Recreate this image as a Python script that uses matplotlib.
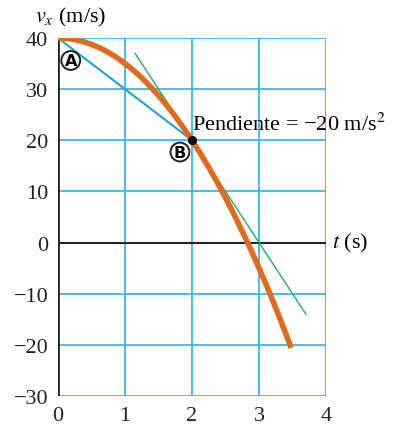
import numpy as np
import matplotlib
matplotlib.use("Agg")
import matplotlib.pyplot as plt

# velocity curve
t_curve = [0, 0.125, 0.25, 0.375, 0.5, 0.625, 0.75, 0.875, 1.0, 1.125, 1.25, 1.375, 1.5,
           1.625, 1.75, 1.875, 2.0, 2.125, 2.25, 2.375, 2.5, 2.625, 2.75, 2.875, 3.0,
           3.125, 3.25, 3.375, 3.48]
v_curve = [40, 39.92, 39.7, 39.3, 38.75, 38.05, 37.2, 36.2, 35, 33.7, 32.2, 30.55, 28.75,
           26.8, 24.7, 22.4, 20, 17.4, 14.7, 11.8, 8.75, 5.55, 2.2, -1.3, -5,
           -8.8, -12.8, -16.95, -20.6]

# chord A -> B
t_chord = [0, 2]
v_chord = [40, 20]

# tangent at B
t_tan = [1.15, 3.7]
v_tan = [37, -14]

point_B = (2, 20)
x_ticks = [0, 1, 2, 3, 4]
y_ticks = [-30, -20, -10, 0, 10, 20, 30, 40]

plt.rcParams['font.family'] = ['Liberation Serif', 'DejaVu Serif']
plt.rcParams['mathtext.fontset'] = 'stix'

grid_c = '#3bb6ea'
fig = plt.figure(figsize=(4.07, 4.27), dpi=100)
ax = fig.add_axes([0.1425, 0.0703, 0.6585, 0.8384])
ax.set_xlim(0, 4)
ax.set_ylim(-30, 40)

for x in x_ticks[1:]:
    ax.axvline(x, color=grid_c, lw=1.3, zorder=1)
for y in y_ticks:
    if y != 0:
        ax.axhline(y, color=grid_c, lw=1.3, zorder=1)
ax.axhline(0, color='#222222', lw=1.5, zorder=2)
ax.axvline(0, color='#222222', lw=2, zorder=2)

for s in ax.spines.values():
    s.set_visible(False)

ax.plot(t_chord, v_chord, color='#1aa3e0', lw=1.5, zorder=3)
ax.plot(t_tan, v_tan, color='#1fae6a', lw=1.0, zorder=3)
ax.plot(t_curve, v_curve, color='#e06a1e', lw=4, solid_capstyle='butt', zorder=4)
ax.plot(*point_B, 'o', color='black', ms=5.5, zorder=5)

ax.set_xticks(x_ticks)
ax.set_yticks(y_ticks)
ax.set_yticklabels([str(v).replace('-', '\u2212') for v in y_ticks])
ax.tick_params(length=0, labelsize=16, colors='#222222', pad=7)

ax.text(2.0, 23.3, 'Pendiente = \u221220 m/s$^2$', fontsize=16, ha='left', va='center', zorder=6)
for lab, (tx, vy) in [('A', (0.19, 35.6)), ('B', (1.82, 17.7))]:
    ax.text(tx, vy, lab, fontsize=11.5, fontweight='bold', family='DejaVu Sans', ha='center', va='center',
            bbox=dict(boxstyle='circle,pad=0.12', fc='white', ec='#222222', lw=1.4), zorder=6)

fig.text(0.085, 0.958, r'$v_x$ (m/s)', fontsize=16, ha='left', va='center')
ax.text(4.09, 0, r'$t$ (s)', fontsize=16, ha='left', va='center')

fig.savefig('out.png', dpi=100)
